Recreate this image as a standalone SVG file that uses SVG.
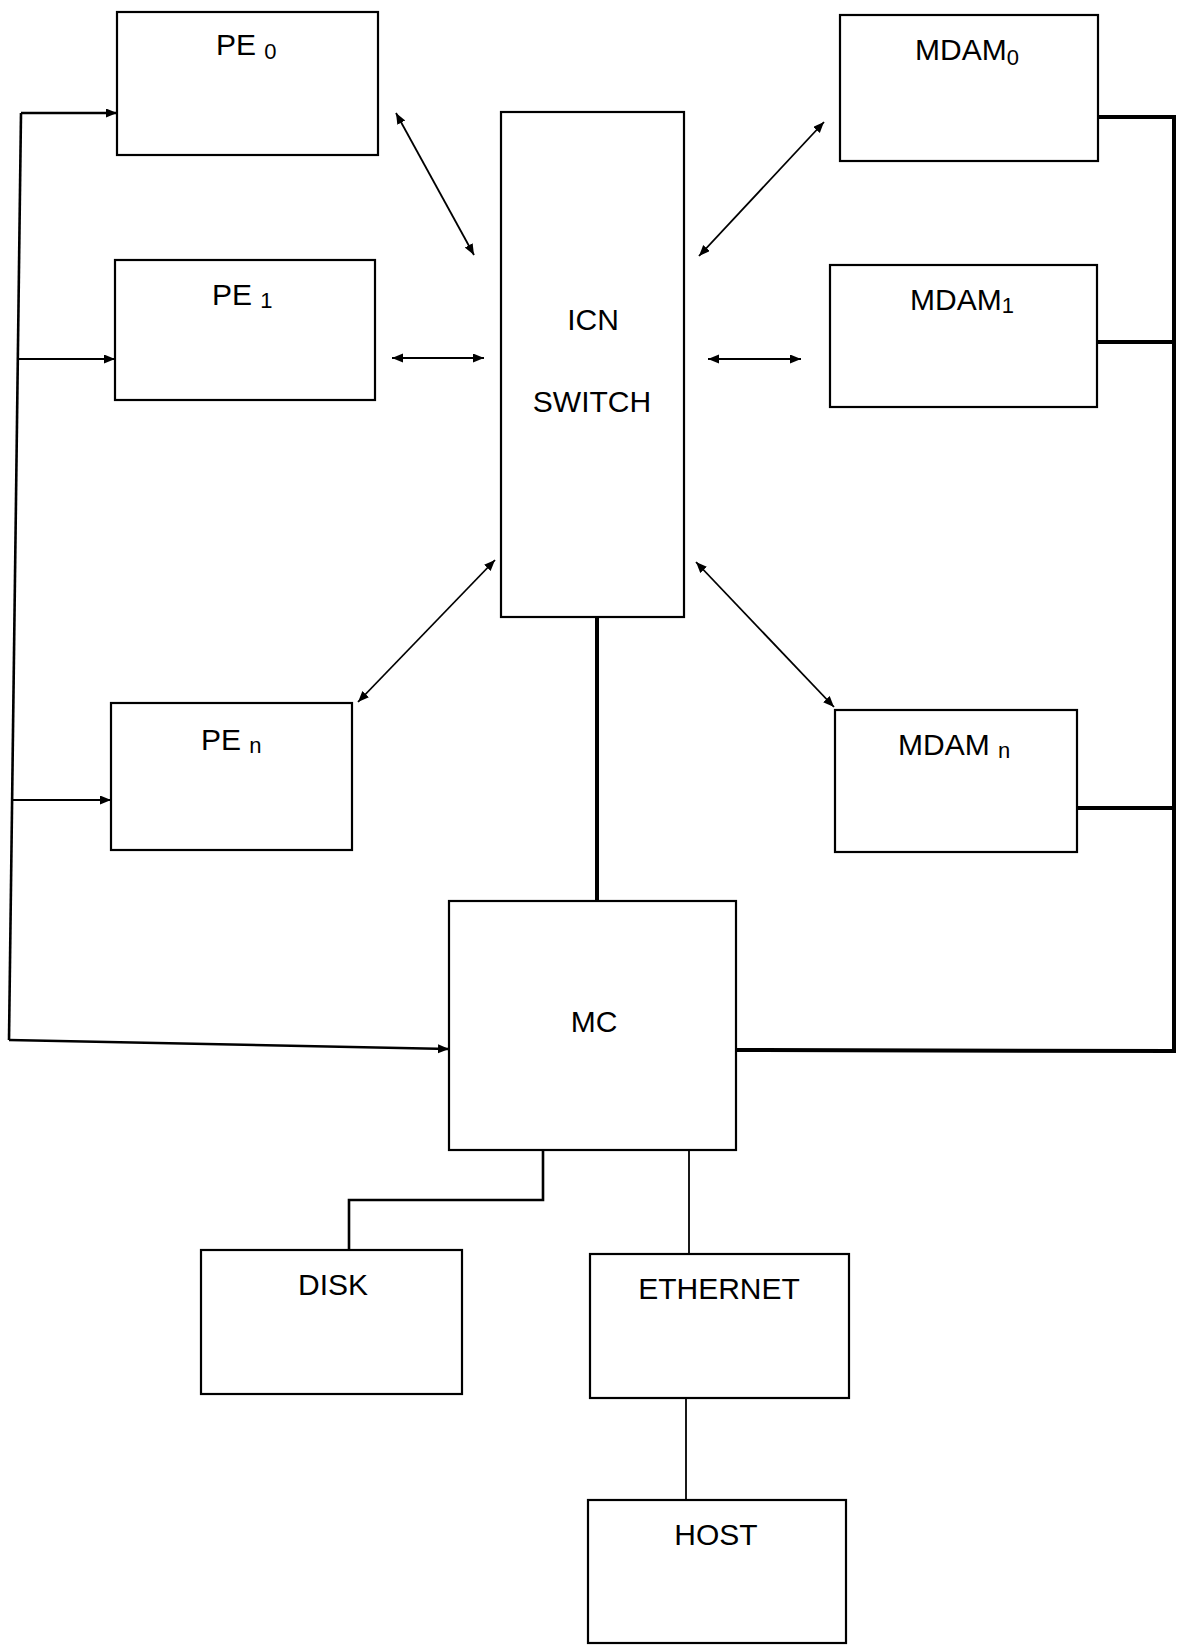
<svg xmlns="http://www.w3.org/2000/svg" width="1178" height="1645" viewBox="0 0 1178 1645">
<style>
.box{fill:none;stroke:#000;stroke-width:2.2}
.lbl{font-family:"Liberation Sans",Arial,sans-serif;font-size:30px;fill:#000}
.sub{font-size:22px}
.c{fill:none;stroke:#000;stroke-width:1.8}
.thick{fill:none;stroke:#000;stroke-width:4}
.med{fill:none;stroke:#000;stroke-width:2.6}
</style>
<defs>
<marker id="ah" markerUnits="userSpaceOnUse" markerWidth="12" markerHeight="10" refX="11" refY="4.5" orient="auto-start-reverse">
<path d="M0,0 L11,4.5 L0,9 z" fill="#000"/>
</marker>
</defs>
<rect width="1178" height="1645" fill="#fff"/>
<g id="connectors">
<path class="med" d="M21,113 L9,1040"/>
<path class="med" d="M21,113 L117,113" marker-end="url(#ah)"/>
<path class="c" d="M18,359 L115,359" marker-end="url(#ah)"/>
<path class="c" d="M13,800 L111,800" marker-end="url(#ah)"/>
<path class="med" d="M9,1040 L449,1049" marker-end="url(#ah)"/>
<path class="c" d="M396,113 L474,255" marker-start="url(#ah)" marker-end="url(#ah)"/>
<path class="c" d="M392,358 L484,358" marker-start="url(#ah)" marker-end="url(#ah)"/>
<path class="c" d="M495,560 L358,702" marker-start="url(#ah)" marker-end="url(#ah)"/>
<path class="c" d="M824,122 L699,256" marker-start="url(#ah)" marker-end="url(#ah)"/>
<path class="c" d="M708,359 L801,359" marker-start="url(#ah)" marker-end="url(#ah)"/>
<path class="c" d="M696,562 L834,707" marker-start="url(#ah)" marker-end="url(#ah)"/>
<path class="thick" d="M597,617 L597,901"/>
<path class="thick" d="M1098,117 L1174,117 L1174,1051 L736,1050"/>
<path class="thick" d="M1097,342 L1174,342"/>
<path class="thick" d="M1077,808 L1174,808"/>
<path class="med" d="M543,1150 L543,1200 L349,1200 L349,1250"/>
<path class="c" d="M689,1151 L689,1254"/>
<path class="c" d="M686,1398 L686,1500"/>
</g>
<g id="pe0"><rect class="box" x="117" y="12" width="261" height="143"/><text class="lbl" x="216" y="55">PE <tspan class="sub" dy="4">0</tspan></text></g>
<g id="pe1"><rect class="box" x="115" y="260" width="260" height="140"/><text class="lbl" x="212" y="305">PE <tspan class="sub" dy="3">1</tspan></text></g>
<g id="pen"><rect class="box" x="111" y="703" width="241" height="147"/><text class="lbl" x="201" y="750">PE <tspan class="sub" dy="3">n</tspan></text></g>
<g id="icn"><rect class="box" x="501" y="112" width="183" height="505"/><text class="lbl" x="593" y="330" text-anchor="middle">ICN</text><text class="lbl" x="592" y="412" text-anchor="middle">SWITCH</text></g>
<g id="mdam0"><rect class="box" x="840" y="15" width="258" height="146"/><text class="lbl" x="915" y="60">MDAM<tspan class="sub" dy="5">0</tspan></text></g>
<g id="mdam1"><rect class="box" x="830" y="265" width="267" height="142"/><text class="lbl" x="910" y="310">MDAM<tspan class="sub" dy="3">1</tspan></text></g>
<g id="mdamn"><rect class="box" x="835" y="710" width="242" height="142"/><text class="lbl" x="898" y="755">MDAM <tspan class="sub" dy="3">n</tspan></text></g>
<g id="mc"><rect class="box" x="449" y="901" width="287" height="249"/><text class="lbl" x="594" y="1032" text-anchor="middle">MC</text></g>
<g id="disk"><rect class="box" x="201" y="1250" width="261" height="144"/><text class="lbl" x="333" y="1295" text-anchor="middle">DISK</text></g>
<g id="ethernet"><rect class="box" x="590" y="1254" width="259" height="144"/><text class="lbl" x="719" y="1299" text-anchor="middle">ETHERNET</text></g>
<g id="host"><rect class="box" x="588" y="1500" width="258" height="143"/><text class="lbl" x="716" y="1545" text-anchor="middle">HOST</text></g>
</svg>
